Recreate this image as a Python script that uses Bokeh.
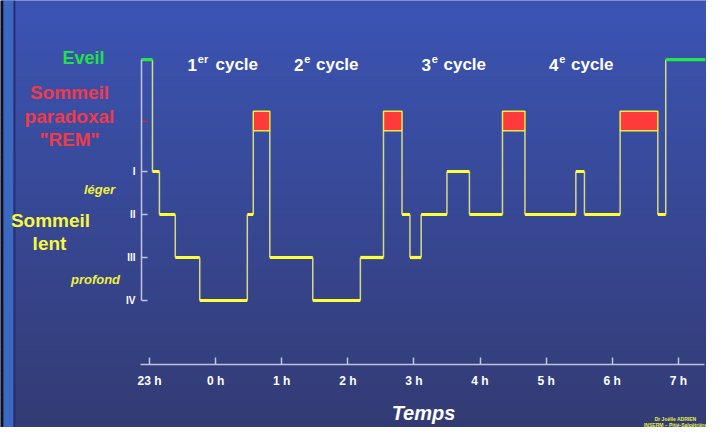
from bokeh.plotting import figure
from bokeh.models import Range1d, LinearAxis, FixedTicker
from bokeh.core.properties import value
from bokeh.embed import file_html
from bokeh.resources import INLINE

# ---------------- data ----------------
hour_ticks = [0, 1, 2, 3, 4, 5, 6, 7, 8]
hour_labels = ["23 h", "0 h", "1 h", "2 h", "3 h", "4 h", "5 h", "6 h", "7 h"]

stage_ticks = [0, 1, 2, 3]
stage_labels = ["IV", "III", "II", "I"]

# boundaries between stages (hours after 23 h)
change_times = [-0.12, 0.045, 0.15, 0.39, 0.76, 1.48, 1.57, 1.82, 2.47, 3.19, 3.54,
                3.82, 3.94, 4.11, 4.50, 4.84, 5.34, 5.68, 6.45, 6.58, 7.12, 7.69,
                7.81, 8.41]
stages = ["W", "I", "II", "III", "IV", "II", "REM", "III", "IV", "III", "REM",
          "II", "III", "II", "I", "II", "REM", "II", "I", "II", "REM", "II", "W"]

stage_level = {"IV": 0, "III": 1, "II": 2, "I": 3, "REM": 3.95, "W": 5.6}
rem_top = 4.4
rem_tick = 4.17

cycle_labels = [("1", "er"), ("2", "e"), ("3", "e"), ("4", "e")]

# ---------------- geometry helpers (page pixels -> data) ----------------
PX_PER_H = 66.1
X0_PX = 157.0
PX_PER_L = 43.0
Y0_PX = 308.0


def hx(px):
    return (px - X0_PX) / PX_PER_H


def ly(py):
    return (Y0_PX - py) / PX_PER_L


W, H = 706, 427
p = figure(width=W, height=H, x_range=Range1d(hx(8), hx(8 + W)),
           y_range=Range1d(ly(8 + H), ly(8)), x_axis_location=None,
           y_axis_location=None, min_border=0, toolbar_location=None,
           output_backend="svg")
p.grid.visible = False
p.outline_line_color = None
p.background_fill_color = "#3a4b9a"
p.border_fill_color = "#3a4b9a"

# background gradient
nb = 90
top_c = (59, 84, 180)
bot_c = (51, 59, 116)
tops, bots, cols = [], [], []
for i in range(nb):
    f = i / (nb - 1)
    y_a = 8 + H * i / nb
    y_b = 8 + H * (i + 1) / nb
    tops.append(ly(y_a))
    bots.append(ly(y_b) - 0.01)
    c = tuple(int(round(top_c[k] + (bot_c[k] - top_c[k]) * f)) for k in range(3))
    cols.append("#%02x%02x%02x" % c)
p.quad(left=hx(8), right=hx(8 + W), top=tops, bottom=bots, fill_color=cols,
       line_color=None)

# left frame strips
p.quad(left=[hx(8), hx(11), hx(21)], right=[hx(11), hx(21), hx(23)],
       top=ly(8), bottom=ly(8 + H),
       fill_color=["#101018", "#3b69c2", "#2c2d72"], line_color=None)

# axes
yaxis = LinearAxis(fixed_location=hx(149), bounds=(0, stage_level["W"]),
                   ticker=FixedTicker(ticks=stage_ticks),
                   major_label_overrides={t: l for t, l in zip(stage_ticks, stage_labels)})
yaxis.axis_line_color = "#c0c4e0"
yaxis.axis_line_width = 1.5
yaxis.major_tick_line_color = "#c0c4e0"
yaxis.major_tick_line_width = 1.5
yaxis.major_tick_in = 6
yaxis.major_tick_out = 0
yaxis.minor_tick_line_color = None
yaxis.major_label_standoff = 6
yaxis.major_label_text_color = "white"
yaxis.major_label_text_font = "Liberation Sans"
yaxis.major_label_text_font_style = "bold"
yaxis.major_label_text_font_size = "10px"
p.add_layout(yaxis, "left")

xaxis = LinearAxis(fixed_location=ly(372), bounds=(hx(148), hx(712)),
                   ticker=FixedTicker(ticks=hour_ticks),
                   major_label_overrides={t: l for t, l in zip(hour_ticks, hour_labels)})
xaxis.axis_line_color = "#c0c4e0"
xaxis.axis_line_width = 1.5
xaxis.major_tick_line_color = "#c0c4e0"
xaxis.major_tick_line_width = 1.5
xaxis.major_tick_in = 7
xaxis.major_tick_out = 0
xaxis.minor_tick_line_color = None
xaxis.major_label_standoff = 9
xaxis.major_label_text_color = "white"
xaxis.major_label_text_font = "Liberation Sans"
xaxis.major_label_text_font_style = "bold"
xaxis.major_label_text_font_size = "12px"
p.add_layout(xaxis, "below")

# REM tick (red)
p.segment(x0=[hx(149)], x1=[hx(155)], y0=[rem_tick], y1=[rem_tick],
          line_color="#c03040", line_width=1.5)

# ---------------- hypnogram ----------------
levels = [stage_level[s] for s in stages]
# vertical transitions (thin)
vx, vy0, vy1 = [], [], []
for i in range(len(stages) - 1):
    vx.append(change_times[i + 1])
    vy0.append(levels[i])
    vy1.append(levels[i + 1])
p.segment(x0=vx, x1=vx, y0=vy0, y1=vy1, line_color="#d6da86", line_width=1.5)

# REM boxes
rl, rr = [], []
for i, s in enumerate(stages):
    if s == "REM":
        rl.append(change_times[i])
        rr.append(change_times[i + 1])
p.quad(left=rl, right=rr, bottom=stage_level["REM"], top=rem_top,
       fill_color="#ff3a3a", line_color="#f0f040", line_width=1.5)

# horizontal segments (thick)
hx0, hx1, hy, hc = [], [], [], []
for i, s in enumerate(stages):
    if s == "REM":
        continue
    hx0.append(change_times[i])
    hx1.append(change_times[i + 1])
    hy.append(levels[i])
    hc.append("#22e64a" if s == "W" else "#ffff38")
p.segment(x0=hx0, x1=hx1, y0=hy, y1=hy, line_color=hc, line_width=3.2,
          line_cap="butt")

# ---------------- texts ----------------
F = value("Liberation Sans")


def txt(x, y, s, color, size, style="bold", align="center", baseline="middle"):
    p.text(x=[x], y=[y], text=[s], text_color=color, text_font=F,
           text_font_size=size, text_font_style=style, text_align=align,
           text_baseline=baseline)


txt(hx(91), ly(65), "Eveil", "#22e04c", "18px")
txt(hx(77), ly(100), "Sommeil", "#f03a48", "19px")
txt(hx(77), ly(124), "paradoxal", "#f03a48", "19px")
txt(hx(77), ly(147), "\"REM\"", "#f03a48", "19px")
txt(hx(107), ly(197), "léger", "#f0f040", "13px", style="bold italic")
txt(hx(58), ly(228), "Sommeil", "#f8f840", "19px")
txt(hx(57), ly(251), "lent", "#f8f840", "19px")
txt(hx(103), ly(287), "profond", "#f0f040", "13px", style="bold italic")

cycle_x = [195, 301.5, 429, 556.5]
for (num, sup), cx in zip(cycle_labels, cycle_x):
    txt(hx(cx), ly(72), num, "white", "17px", align="left", baseline="alphabetic")
    txt(hx(cx + 10.3), ly(66), sup, "white", "11px", align="left", baseline="alphabetic")
    txt(hx(cx + (28 if sup == "er" else 22)), ly(72), "cycle", "white", "17px",
        align="left", baseline="alphabetic")

txt(hx(431), ly(420), "Temps", "white", "20px", style="bold italic")
txt(hx(683), ly(426), "Dr Joëlle ADRIEN", "#e4f040", "5px")
txt(hx(683), ly(432), "INSERM – Pitié-Salpêtrière", "#e4f040", "5px")

open("out.html", "w").write(file_html(p, INLINE))
